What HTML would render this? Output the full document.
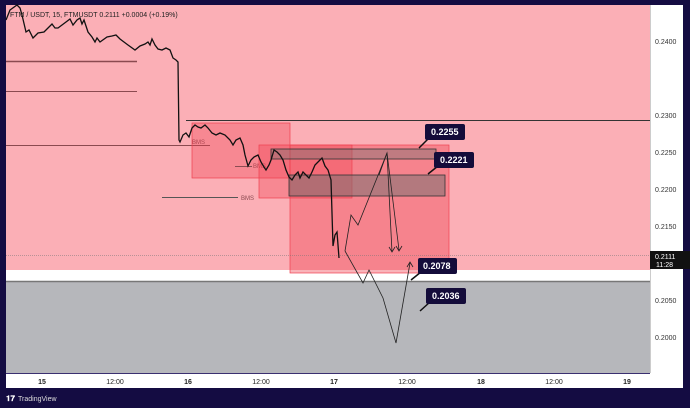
<!DOCTYPE html><html><head><style>
body{margin:0;width:690px;height:408px;background:#140c42;overflow:hidden;font-family:"Liberation Sans",sans-serif}
</style></head><body>
<svg width="690" height="408" style="position:absolute;left:0;top:0" font-family="Liberation Sans, sans-serif">
<rect x="6" y="5" width="677" height="383" fill="#fff"/>
<rect x="6" y="5" width="644" height="265" fill="#fbafb6"/>
<rect x="6" y="282" width="644" height="91" fill="#b6b7bb"/>
<line x1="6" y1="281.5" x2="650" y2="281.5" stroke="#777" stroke-width="1.5"/>
<line x1="6" y1="373.5" x2="650" y2="373.5" stroke="#3a2f70" stroke-width="1"/>
<line x1="650.5" y1="5" x2="650.5" y2="373" stroke="#ccc"/>
<!-- horizontal lines -->
<g stroke="#8a4a50" stroke-width="1">
<line x1="6" y1="61.5" x2="137" y2="61.5" stroke-width="1.5"/>
<line x1="6" y1="91.5" x2="137" y2="91.5"/>
<line x1="6" y1="145.5" x2="210" y2="145.5"/>
<line x1="186" y1="120.5" x2="650" y2="120.5" stroke="#333"/>
<line x1="162" y1="197.5" x2="238" y2="197.5" stroke="#555"/>
<line x1="235" y1="166.5" x2="252" y2="166.5" stroke="#555"/>
</g>
<g font-size="6" fill="#8a4a50"><text x="192" y="144">BMS</text><text x="241" y="200">BMS</text><text x="253" y="168">BMS</text></g>
<!-- red boxes -->
<rect x="192" y="123" width="98" height="55" fill="#f0404f" fill-opacity="0.35" stroke="#f04050" stroke-width="0.7"/>
<rect x="259" y="145" width="93" height="53" fill="#f0404f" fill-opacity="0.35" stroke="#f04050" stroke-width="0.7"/>
<rect x="290" y="145" width="159" height="128" fill="#f0404f" fill-opacity="0.4" stroke="#f04050" stroke-width="0.7"/>
<rect x="271" y="149" width="165" height="10" fill="#707070" fill-opacity="0.4" stroke="#333" stroke-width="0.8"/>
<rect x="289" y="175" width="156" height="21" fill="#707070" fill-opacity="0.5" stroke="#333" stroke-width="0.8"/>
<line x1="6" y1="255.5" x2="650" y2="255.5" stroke="#777" stroke-width="0.6" stroke-dasharray="1,1"/>
<!-- price -->
<polyline fill="none" stroke="#111" stroke-width="1.3" points="6,20 10,10 17,5 20,8 22,15 26,32 29,30 33,38 38,33 44,32 48,28 52,24 55,28 58,28 62,25 66,22 70,19 73,25 77,20 80,18 82,24 84,20 88,32 92,37 95,42 97,38 100,42 107,37 112,36 116,35 120,39 128,45 135,50 140,46 145,44 148,42 150,45 152,39 155,45 158,49 162,50 166,48 170,50 173,58 176,60 178,62 179,140 180,142 183,135 186,133 189,137 192,128 195,125 198,127 201,128 205,125 208,128 212,133 216,135 220,133 225,135 230,140 233,145 236,140 240,138 243,145 245,155 248,166 251,160 254,157 258,155 261,162 264,167 266,170 269,165 271,160 274,150 277,152 280,155 283,160 286,170 289,177 292,180 295,175 298,172 300,178 303,172 306,175 309,178 312,172 315,165 320,160 322,158 325,166 328,170 331,180 333,246 335,235 337,232 339,258"/>
<!-- projection -->
<g fill="none" stroke="#222" stroke-width="0.8">
<polyline points="345,251 351,215 358,225 387,153 399,250"/>
<polyline points="379,175 387,153 392,252"/>
<polyline points="345,251 363,283 369,270 383,298 396,343 410,263"/>
<polyline points="396,246 399,251 402,246"/><polyline points="389,247 392,252 395,247"/>
<polyline points="407,267 410,262 413,267"/>
</g>
<!-- labels -->
<g font-size="9" font-weight="bold" fill="#fff">
<line x1="419" y1="148" x2="429" y2="138" stroke="#111" stroke-width="1.5"/>
<rect x="425" y="124" width="40" height="16" rx="2" fill="#140c3a"/><text x="431" y="135">0.2255</text>
<line x1="428" y1="174" x2="438" y2="166" stroke="#111" stroke-width="1.5"/>
<rect x="434" y="152" width="40" height="16" rx="2" fill="#140c3a"/><text x="440" y="163">0.2221</text>
<line x1="411" y1="280" x2="421" y2="272" stroke="#111" stroke-width="1.5"/>
<rect x="418" y="258" width="39" height="16" rx="2" fill="#140c3a"/><text x="423" y="269">0.2078</text>
<line x1="420" y1="311" x2="430" y2="302" stroke="#111" stroke-width="1.5"/>
<rect x="426" y="288" width="40" height="16" rx="2" fill="#140c3a"/><text x="432" y="299">0.2036</text>
</g>
<text x="10" y="17" font-size="7" fill="#222">FTM / USDT, 15, FTMUSDT  0.2111  +0.0004 (+0.19%)</text>
<g font-size="7" fill="#333">
<text x="655" y="44">0.2400</text><text x="655" y="118">0.2300</text><text x="655" y="155">0.2250</text>
<text x="655" y="192">0.2200</text><text x="655" y="229">0.2150</text><text x="655" y="303">0.2050</text><text x="655" y="340">0.2000</text>
</g>
<rect x="650" y="251" width="40" height="18" fill="#111"/>
<text x="655" y="259" font-size="7" fill="#fff">0.2111</text><text x="656" y="267" font-size="7" fill="#fff">11:28</text>
<g font-size="7" fill="#222" text-anchor="middle">
<text x="42" y="384" font-weight="bold">15</text><text x="115" y="384">12:00</text>
<text x="188" y="384" font-weight="bold">16</text><text x="261" y="384">12:00</text>
<text x="334" y="384" font-weight="bold">17</text><text x="407" y="384">12:00</text>
<text x="481" y="384" font-weight="bold">18</text><text x="554" y="384">12:00</text>
<text x="627" y="384" font-weight="bold">19</text>
</g>
<text x="6" y="401" font-size="8" fill="#fff" font-weight="bold">𝟏𝟕</text>
<text x="18" y="401" font-size="7" fill="#ddd">TradingView</text>
</svg>
</body></html>
